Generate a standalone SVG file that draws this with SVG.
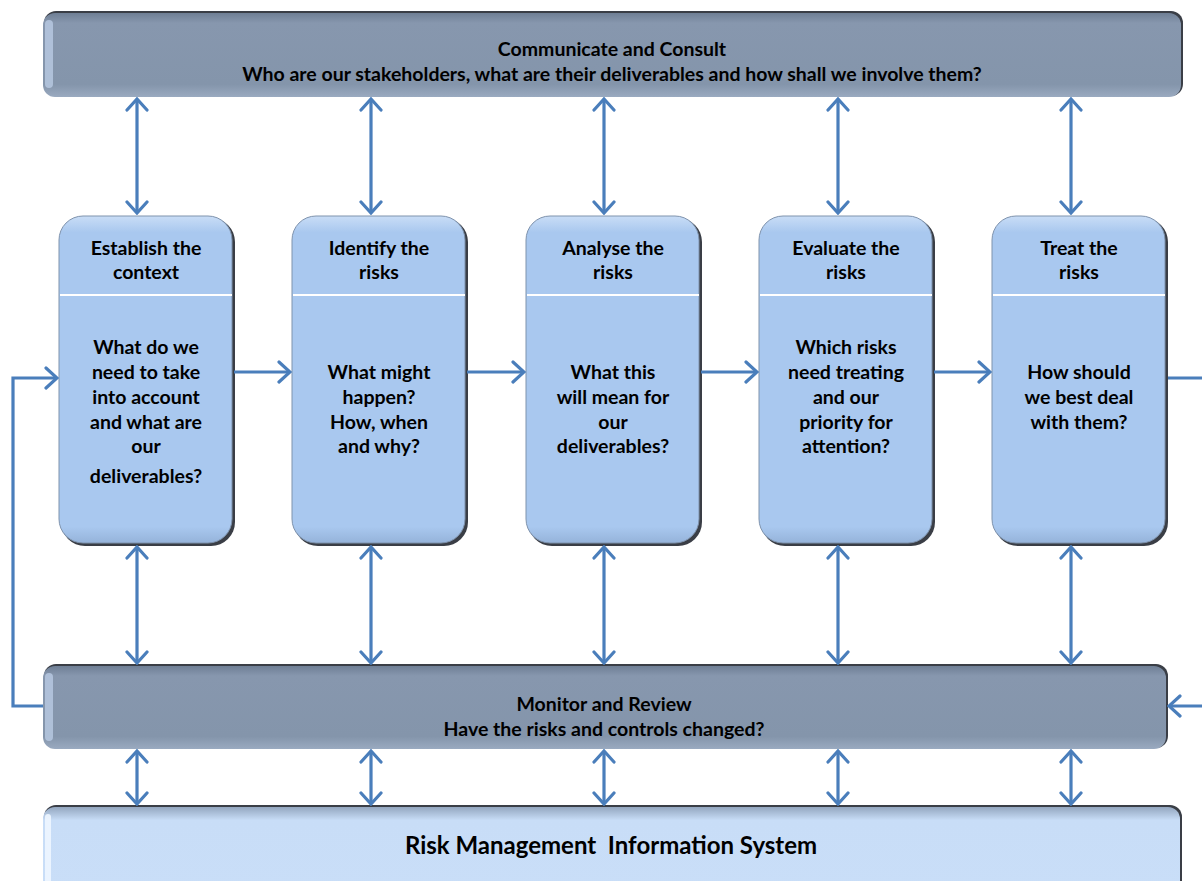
<svg xmlns="http://www.w3.org/2000/svg" width="1202" height="881" viewBox="0 0 1202 881">
<defs>
<linearGradient id="barG" x1="0" y1="0" x2="0" y2="1">
<stop offset="0" stop-color="#6f7f95"/>
<stop offset="0.12" stop-color="#8797ae"/>
<stop offset="0.85" stop-color="#8495ab"/>
<stop offset="1" stop-color="#9aaac0"/>
</linearGradient>
<linearGradient id="boxG" x1="0" y1="0" x2="0" y2="1">
<stop offset="0" stop-color="#c9ddf6"/>
<stop offset="0.05" stop-color="#a9c8ef"/>
<stop offset="0.95" stop-color="#a9c8ef"/>
<stop offset="1" stop-color="#95b3da"/>
</linearGradient>
<linearGradient id="botG" x1="0" y1="0" x2="0" y2="1">
<stop offset="0" stop-color="#93a6bf"/>
<stop offset="0.15" stop-color="#c8ddf7"/>
<stop offset="1" stop-color="#c9def8"/>
</linearGradient>
<marker id="ah" viewBox="-14 -12 16 24" refX="0" refY="0" markerWidth="16" markerHeight="24" markerUnits="userSpaceOnUse" orient="auto-start-reverse">
<path d="M-11,-10 L0,0 L-11,10" fill="none" stroke="#4a7ebb" stroke-width="3.2" stroke-linecap="round" stroke-linejoin="miter"/>
</marker>
</defs>
<style>
text{font-family:Lato,"Liberation Sans",sans-serif;font-weight:bold;fill:#000;text-anchor:middle;white-space:pre}
.t{font-size:19.5px}
.big{font-size:24px}
.bar{fill:url(#barG)}
.sh{fill:#3a3e46}
.box{fill:url(#boxG);stroke:#7f93ad;stroke-width:1}
.div{stroke:#ffffff;stroke-width:2}
.con{fill:none;stroke:#4a7ebb;stroke-width:3.2}
</style>
<rect width="1202" height="881" fill="#ffffff"/>

<g id="communicate">
<rect class="sh" x="44" y="11" width="1139" height="85" rx="12"/>
<rect class="bar" x="43" y="13" width="1138" height="84" rx="12"/>
<rect x="45" y="20" width="8" height="68" rx="4" fill="#b9cbe4" opacity="0.8"/>
<text class="t" x="612" y="56">Communicate and Consult</text>
<text class="t" x="612" y="81">Who are our stakeholders, what are their deliverables and how shall we involve them?</text>
</g>

<g id="box1">
<rect class="sh" x="61" y="218" width="174" height="328" rx="24"/>
<rect class="box" x="59" y="216" width="173" height="327" rx="24"/>
<line class="div" x1="60" y1="295" x2="232" y2="295"/>
<text class="t" x="146" y="255">Establish the</text>
<text class="t" x="146" y="279">context</text>
<text class="t" x="146" y="354">What do we</text>
<text class="t" x="146" y="379">need to take</text>
<text class="t" x="146" y="404">into account</text>
<text class="t" x="146" y="429">and what are</text>
<text class="t" x="146" y="453">our</text>
<text class="t" x="146" y="483">deliverables?</text>
</g>

<g id="box2">
<rect class="sh" x="294" y="218" width="174" height="328" rx="24"/>
<rect class="box" x="292" y="216" width="173" height="327" rx="24"/>
<line class="div" x1="293" y1="295" x2="465" y2="295"/>
<text class="t" x="379" y="255">Identify the</text>
<text class="t" x="379" y="279">risks</text>
<text class="t" x="379" y="379">What might</text>
<text class="t" x="379" y="404">happen?</text>
<text class="t" x="379" y="429">How, when</text>
<text class="t" x="379" y="453">and why?</text>
</g>

<g id="box3">
<rect class="sh" x="528" y="218" width="174" height="328" rx="24"/>
<rect class="box" x="526" y="216" width="173" height="327" rx="24"/>
<line class="div" x1="527" y1="295" x2="699" y2="295"/>
<text class="t" x="613" y="255">Analyse the</text>
<text class="t" x="613" y="279">risks</text>
<text class="t" x="613" y="379">What this</text>
<text class="t" x="613" y="404">will mean for</text>
<text class="t" x="613" y="429">our</text>
<text class="t" x="613" y="453">deliverables?</text>
</g>

<g id="box4">
<rect class="sh" x="761" y="218" width="174" height="328" rx="24"/>
<rect class="box" x="759" y="216" width="173" height="327" rx="24"/>
<line class="div" x1="760" y1="295" x2="932" y2="295"/>
<text class="t" x="846" y="255">Evaluate the</text>
<text class="t" x="846" y="279">risks</text>
<text class="t" x="846" y="354">Which risks</text>
<text class="t" x="846" y="379">need treating</text>
<text class="t" x="846" y="404">and our</text>
<text class="t" x="846" y="429">priority for</text>
<text class="t" x="846" y="453">attention?</text>
</g>

<g id="box5">
<rect class="sh" x="994" y="218" width="174" height="328" rx="24"/>
<rect class="box" x="992" y="216" width="173" height="327" rx="24"/>
<line class="div" x1="993" y1="295" x2="1165" y2="295"/>
<text class="t" x="1079" y="255">Treat the</text>
<text class="t" x="1079" y="279">risks</text>
<text class="t" x="1079" y="379">How should</text>
<text class="t" x="1079" y="404">we best deal</text>
<text class="t" x="1079" y="429">with them?</text>
</g>

<g id="monitor">
<rect class="sh" x="44" y="664" width="1124" height="84" rx="12"/>
<rect class="bar" x="43" y="666" width="1123" height="83" rx="12"/>
<rect x="45" y="673" width="8" height="68" rx="4" fill="#b9cbe4" opacity="0.8"/>
<text class="t" x="604" y="711">Monitor and Review</text>
<text class="t" x="604" y="736">Have the risks and controls changed?</text>
</g>

<g id="rmis">
<rect class="sh" x="44" y="805" width="1138" height="90" rx="12"/>
<rect x="43" y="807" width="1137" height="88" rx="12" fill="url(#botG)"/>
<rect x="45" y="814" width="6" height="70" rx="3" fill="#eef6ff" opacity="0.9"/>
<text class="big" x="611" y="854">Risk Management  Information System</text>
</g>

<g id="connectors">
<path class="con" d="M137,99 V213" marker-start="url(#ah)" marker-end="url(#ah)"/>
<path class="con" d="M371,99 V213" marker-start="url(#ah)" marker-end="url(#ah)"/>
<path class="con" d="M604,99 V213" marker-start="url(#ah)" marker-end="url(#ah)"/>
<path class="con" d="M838,99 V213" marker-start="url(#ah)" marker-end="url(#ah)"/>
<path class="con" d="M1071,99 V213" marker-start="url(#ah)" marker-end="url(#ah)"/>
<path class="con" d="M137,547 V663" marker-start="url(#ah)" marker-end="url(#ah)"/>
<path class="con" d="M371,547 V663" marker-start="url(#ah)" marker-end="url(#ah)"/>
<path class="con" d="M604,547 V663" marker-start="url(#ah)" marker-end="url(#ah)"/>
<path class="con" d="M838,547 V663" marker-start="url(#ah)" marker-end="url(#ah)"/>
<path class="con" d="M1071,547 V663" marker-start="url(#ah)" marker-end="url(#ah)"/>
<path class="con" d="M137,751 V804" marker-start="url(#ah)" marker-end="url(#ah)"/>
<path class="con" d="M371,751 V804" marker-start="url(#ah)" marker-end="url(#ah)"/>
<path class="con" d="M604,751 V804" marker-start="url(#ah)" marker-end="url(#ah)"/>
<path class="con" d="M838,751 V804" marker-start="url(#ah)" marker-end="url(#ah)"/>
<path class="con" d="M1071,751 V804" marker-start="url(#ah)" marker-end="url(#ah)"/>
<path class="con" d="M234,372 H290" marker-end="url(#ah)"/>
<path class="con" d="M467,372 H524" marker-end="url(#ah)"/>
<path class="con" d="M701,372 H757" marker-end="url(#ah)"/>
<path class="con" d="M934,372 H990" marker-end="url(#ah)"/>
<path class="con" d="M1168,378 H1204"/>
<path class="con" d="M1204,706 H1169" marker-end="url(#ah)"/>
<path class="con" d="M43,706 H13 V378 H57" marker-end="url(#ah)"/>
</g>
</svg>
